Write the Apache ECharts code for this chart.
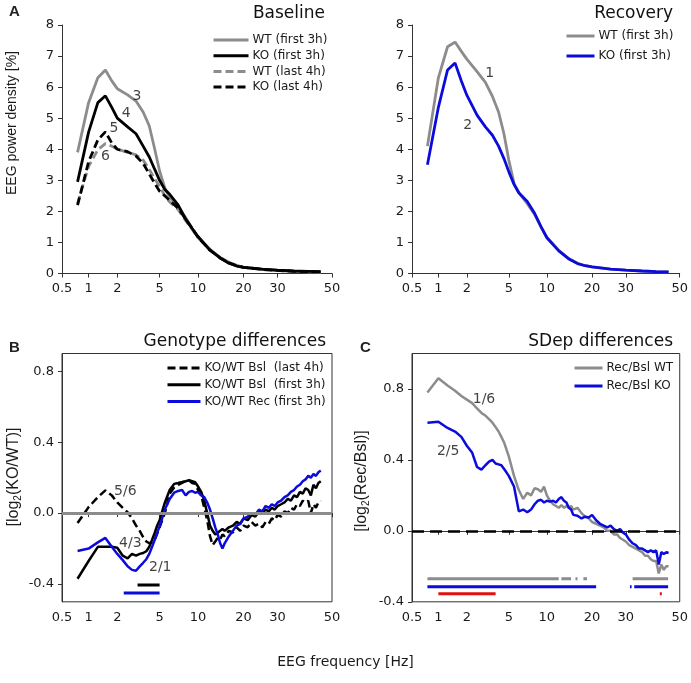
<!DOCTYPE html>
<html>
<head>
    <meta charset="UTF-8">
    <script src="https://cdn.jsdelivr.net/npm/echarts@6/dist/echarts.min.js"></script>
    <style>
        html, body { margin: 0; padding: 0; background: #fff; }
        #main { width: 691px; height: 683px; }
    </style>
</head>
<body>
<div id="main"></div>
<script type="text/javascript">
    // frequency axis: tick labels (Hz)
    var tickFreq = [0.5, 1, 2, 5, 10, 20, 30, 50];
    var tickLabels = ['0.5', '1', '2', '5', '10', '20', '30', '50'];
    // where each tick sits along the 270-unit frequency axis of the original figure
    var tickPos = [0, 26.6, 55.3, 97.6, 136, 181.6, 215.6, 270];

    // power spectra (A, Recovery)
    var freqSpec = [0.75, 1, 1.25, 1.5, 1.75, 2, 2.5, 3, 3.5, 4, 4.5, 5, 5.5, 6, 7, 8, 9, 10, 12, 14, 16, 18, 20, 25, 30, 35, 40, 45];
    var wtBslFirst = [3.9, 5.5, 6.3, 6.55, 6.2, 5.95, 5.75, 5.55, 5.2, 4.75, 4.0, 3.3, 2.75, 2.45, 2.15, 1.8, 1.45, 1.17, 0.78, 0.52, 0.36, 0.26, 0.2, 0.13, 0.09, 0.07, 0.05, 0.04];
    var koBslFirst = [2.95, 4.55, 5.5, 5.72, 5.35, 5.0, 4.72, 4.5, 4.1, 3.75, 3.35, 3.0, 2.7, 2.55, 2.2, 1.75, 1.45, 1.19, 0.75, 0.5, 0.33, 0.24, 0.2, 0.14, 0.11, 0.08, 0.07, 0.06];
    var wtBslLast = [2.25, 3.45, 3.98, 4.18, 4.1, 4.0, 3.9, 3.82, 3.65, 3.35, 3.05, 2.8, 2.5, 2.3, 2.05, 1.7, 1.42, 1.15, 0.76, 0.5, 0.34, 0.25, 0.2, 0.13, 0.1, 0.07, 0.06, 0.05];
    var koBslLast = [2.2, 3.6, 4.3, 4.56, 4.2, 4.0, 3.92, 3.78, 3.55, 3.2, 2.9, 2.65, 2.5, 2.35, 2.1, 1.75, 1.45, 1.17, 0.75, 0.5, 0.34, 0.25, 0.2, 0.13, 0.1, 0.07, 0.06, 0.05];
    var wtRec = [4.1, 6.3, 7.3, 7.45, 7.15, 6.9, 6.5, 6.15, 5.7, 5.2, 4.5, 3.65, 2.9, 2.6, 2.25, 1.9, 1.5, 1.17, 0.75, 0.48, 0.33, 0.25, 0.21, 0.14, 0.11, 0.08, 0.06, 0.05];
    var koRec = [3.5, 5.35, 6.55, 6.78, 6.2, 5.74, 5.1, 4.72, 4.45, 4.1, 3.7, 3.28, 2.87, 2.6, 2.32, 1.94, 1.5, 1.15, 0.73, 0.47, 0.32, 0.25, 0.21, 0.14, 0.11, 0.08, 0.06, 0.05];

    // log2 ratios (B, C)
    var freqRatio = [0.75, 1, 1.25, 1.5, 1.75, 2, 2.25, 2.5, 2.75, 3, 3.25, 3.5, 3.75, 4, 4.25, 4.5, 4.75, 5,
        5.5, 6, 6.5, 7, 7.5, 8, 8.5, 9, 9.5, 10, 10.5, 11, 11.5, 12, 12.5, 13, 13.5, 14, 14.5, 15, 16, 17, 18, 19, 20,
        21, 22, 23, 24, 25, 26, 27, 28, 29, 30, 31, 32, 33, 34, 35, 36, 37, 38, 39, 40, 41, 42, 43, 44, 45];
    var koWtBslLast = [-0.056, 0.034, 0.09, 0.128, 0.1, 0.06, 0.03, 0.005, -0.03, -0.07, -0.1, -0.135, -0.16, -0.17, -0.165, -0.15, -0.115, -0.08,
        0.0, 0.11, 0.145, 0.16, 0.17, 0.18, 0.185, 0.17, 0.165, 0.13, 0.1, 0.03, -0.04, -0.13, -0.18, -0.16, -0.14, -0.15, -0.12, -0.13, -0.1, -0.11, -0.08, -0.1, -0.07,
        -0.08, -0.05, -0.07, -0.06, -0.08, -0.05, -0.06, -0.03, -0.04, -0.01, -0.02, 0.01, 0.0, 0.03, 0.02, 0.05, 0.04, 0.07, 0.06, 0.07, 0.0, 0.05, 0.03, 0.06, 0.07];
    var koWtBslFirst = [-0.37, -0.27, -0.19, -0.19, -0.19, -0.195, -0.24, -0.255, -0.23, -0.24, -0.23, -0.225, -0.215, -0.19, -0.15, -0.11, -0.07, -0.04,
        0.06, 0.13, 0.165, 0.17, 0.175, 0.18, 0.185, 0.18, 0.175, 0.15, 0.12, 0.07, 0.0, -0.07, -0.1, -0.12, -0.11, -0.1, -0.09, -0.1, -0.08, -0.07, -0.05, -0.06, -0.03,
        -0.04, -0.01, -0.02, 0.01, 0.0, 0.02, 0.01, 0.03, 0.02, 0.04, 0.05, 0.06, 0.08, 0.07, 0.1, 0.09, 0.12, 0.11, 0.14, 0.13, 0.1, 0.16, 0.14, 0.17, 0.18];
    var koWtRec = [-0.214, -0.2, -0.165, -0.14, -0.19, -0.23, -0.265, -0.3, -0.32, -0.325, -0.3, -0.28, -0.26, -0.23, -0.19, -0.15, -0.11, -0.075,
        0.02, 0.08, 0.115, 0.125, 0.13, 0.1, 0.12, 0.125, 0.115, 0.12, 0.1, 0.09, 0.06, 0.02, -0.03, -0.08, -0.12, -0.17, -0.2, -0.17, -0.13, -0.1, -0.07, -0.06, -0.03,
        -0.02, 0.0, -0.01, 0.02, 0.01, 0.04, 0.03, 0.05, 0.04, 0.06, 0.07, 0.09, 0.1, 0.12, 0.13, 0.15, 0.16, 0.18, 0.19, 0.21, 0.2, 0.22, 0.21, 0.23, 0.24];
    var recBslWt = [0.78, 0.86, 0.82, 0.79, 0.76, 0.74, 0.72, 0.69, 0.665, 0.65, 0.63, 0.61, 0.585, 0.56, 0.53, 0.5, 0.46, 0.42,
        0.31, 0.23, 0.18, 0.215, 0.2, 0.24, 0.235, 0.22, 0.25, 0.2, 0.17, 0.15, 0.14, 0.13, 0.145, 0.13, 0.14, 0.13, 0.14, 0.12, 0.13, 0.1, 0.08, 0.07, 0.05,
        0.04, 0.03, 0.02, 0.0, 0.0, -0.02, -0.02, -0.04, -0.05, -0.06, -0.08, -0.09, -0.1, -0.11, -0.12, -0.14, -0.14, -0.16, -0.17, -0.17, -0.24, -0.19, -0.22, -0.2, -0.2];
    var recBslKo = [0.61, 0.615, 0.58, 0.56, 0.53, 0.48, 0.44, 0.36, 0.345, 0.37, 0.39, 0.4, 0.38, 0.375, 0.37, 0.35, 0.33, 0.31,
        0.25, 0.11, 0.12, 0.105, 0.12, 0.15, 0.17, 0.175, 0.16, 0.17, 0.165, 0.17, 0.16, 0.18, 0.19, 0.17, 0.16, 0.13, 0.12, 0.09, 0.085, 0.07, 0.08, 0.075, 0.09,
        0.06, 0.04, 0.03, 0.02, 0.03, 0.01, 0.0, 0.01, -0.01, -0.02, -0.05, -0.07, -0.08, -0.1, -0.1, -0.11, -0.12, -0.11, -0.12, -0.11, -0.19, -0.12, -0.13, -0.12, -0.125];

    // significant frequency ranges (Hz)
    var sigKoWtBsl = [[3.1, 5.0]];
    var sigKoWtRec = [[2.3, 5.0]];
    var sigRecBslWt = [[0.75, 12], [12.5, 14.5], [15.5, 16], [17.5, 18.5], [32, 44.8]];
    var sigRecBslKo = [[0.75, 21], [31.2, 31.7], [32.5, 44.8]];
    var sigGenoDiff = [[1, 3.75], [41.4, 42.2]];

    // curve labels: [freq, value, text]
    var notesA = [[3.06, 5.69, '3'], [2.43, 5.17, '4'], [1.84, 4.67, '5'], [1.5, 3.78, '6']];
    var notesRec = [[3.29, 6.45, '1'], [2.04, 4.78, '2']];
    var notesB = [[2.38, 0.124, '5/6'], [2.65, -0.169, '4/3'], [5.06, -0.304, '2/1']];
    var notesC = [[2.91, 0.744, '1/6'], [1.27, 0.448, '2/5']];

    var GRAY = '#8c8c8c', BLACK = '#000000', BLUE = '#0b0bdc', RED = '#e01010';
    var FONT = 'DejaVu Sans';

    function fx(f) {
        var lf = Math.log10(f);
        for (var i = 0; i < tickFreq.length - 1; i++) {
            var a = Math.log10(tickFreq[i]), b = Math.log10(tickFreq[i + 1]);
            if (lf <= b || i == tickFreq.length - 2) {
                return tickPos[i] + (lf - a) / (b - a) * (tickPos[i + 1] - tickPos[i]);
            }
        }
    }

    function pts(freqs, vals) {
        return freqs.map(function (f, i) { return [fx(f), vals[i]]; });
    }

    function ranges(list, y) {
        var d = [];
        list.forEach(function (r) {
            d.push([fx(r[0]), y], [fx(r[1]), y], [fx(r[1]), '-']);
        });
        return d;
    }

    function curve(name, idx, data, color, dashed, width) {
        return {
            name: name, type: 'line', xAxisIndex: idx, yAxisIndex: idx,
            data: data, symbol: 'none', smooth: false, z: 3,
            lineStyle: { color: color, width: width || 2.8, type: dashed ? [8, 4] : 'solid' },
            itemStyle: { color: color }
        };
    }

    function sigBar(idx, data, color) {
        return {
            type: 'line', xAxisIndex: idx, yAxisIndex: idx, data: data, symbol: 'none',
            connectNulls: false, silent: true, z: 3,
            lineStyle: { color: color, width: 3 }
        };
    }

    function notes(idx, list) {
        return {
            type: 'scatter', xAxisIndex: idx, yAxisIndex: idx, symbolSize: 0, silent: true, z: 5,
            data: list.map(function (n) { return [fx(n[0]), n[1], n[2]]; }),
            label: {
                show: true, position: 'inside', color: '#111', fontSize: 14, fontFamily: FONT,
                formatter: function (p) { return p.value[2]; }
            }
        };
    }

    function xAxisAt(idx) {
        return {
            gridIndex: idx, type: 'value', min: 0, max: 270,
            axisLine: { show: true, lineStyle: { color: '#333', width: 1 } },
            axisTick: { show: true, length: 4, customValues: tickPos, lineStyle: { color: '#333' } },
            axisLabel: {
                customValues: tickPos, margin: 9, color: '#1a1a1a', fontSize: 13, fontFamily: FONT,
                formatter: function (v) {
                    var k = 0;
                    for (var i = 0; i < tickPos.length; i++) if (Math.abs(tickPos[i] - v) < 0.5) k = i;
                    return tickLabels[k];
                }
            },
            splitLine: { show: false }
        };
    }

    function yAxisAt(idx, min, max, vals, digits) {
        return {
            gridIndex: idx, type: 'value', min: min, max: max,
            axisLine: { show: true, lineStyle: { color: '#333', width: 1 } },
            axisTick: { show: true, length: 4, customValues: vals, lineStyle: { color: '#333' } },
            axisLabel: {
                customValues: vals, margin: 8, color: '#1a1a1a', fontSize: 13, fontFamily: FONT,
                formatter: function (v) { return v.toFixed(digits); }
            },
            splitLine: { show: false }
        };
    }

    var legendNames = {
        a1: 'WT (first 3h)', a2: 'KO (first 3h)', a3: 'WT (last 4h)', a4: 'KO (last 4h)',
        r1: 'WT (first 3h)', r2: 'KO (first 3h)',
        b1: 'KO/WT Bsl  (last 4h)', b2: 'KO/WT Bsl  (first 3h)', b3: 'KO/WT Rec (first 3h)',
        c1: 'Rec/Bsl WT', c2: 'Rec/Bsl KO'
    };

    function legendAt(names, left, top, itemWidth, gap) {
        return {
            data: names, orient: 'vertical', left: left, top: top, itemWidth: itemWidth, itemHeight: 12,
            itemGap: gap, padding: 0, selectedMode: false,
            itemStyle: { color: 'rgba(0,0,0,0)', borderWidth: 0, opacity: 0 },
            lineStyle: { width: 3 },
            textStyle: { fontSize: 12, color: '#1a1a1a', fontFamily: FONT, padding: [0, 0, 0, -1] },
            formatter: function (n) { return legendNames[n]; }
        };
    }

    var yTicksSpec = [0, 1, 2, 3, 4, 5, 6, 7, 8];
    var yTicksRatio = [-0.4, 0, 0.4, 0.8];

    var titleStyle = { fontSize: 17, fontWeight: 'normal', color: '#111', fontFamily: FONT };

    var myChart = echarts.init(document.getElementById('main'));
    var option = {
        animation: false,
        backgroundColor: '#fff',
        textStyle: { fontFamily: FONT },
        grid: [
            { left: 62, top: 25, width: 270, height: 248.5 },
            { left: 412, top: 25, width: 270, height: 248.5 },
            { left: 62, top: 353.5, width: 270, height: 248.3, show: true, borderColor: '#333', borderWidth: 1 },
            { left: 412, top: 353.5, width: 270, height: 248.3, show: true, borderColor: '#333', borderWidth: 1 }
        ],
        xAxis: [xAxisAt(0), xAxisAt(1), xAxisAt(2), xAxisAt(3)],
        yAxis: [
            yAxisAt(0, 0, 8, yTicksSpec, 0),
            yAxisAt(1, 0, 8, yTicksSpec, 0),
            yAxisAt(2, -0.5, 0.9, yTicksRatio, 1),
            yAxisAt(3, -0.4, 1.0, yTicksRatio, 1)
        ],
        legend: [
            legendAt(['a1', 'a2', 'a3', 'a4'], 212, 34, 35, 3.7),
            legendAt(['r1', 'r2'], 565, 30, 28, 8),
            legendAt(['b1', 'b2', 'b3'], 166, 362, 33, 4.7),
            legendAt(['c1', 'c2'], 573, 362, 28, 6)
        ],
        title: [
            { text: 'Baseline', right: 691 - 330, top: 0, textStyle: titleStyle },
            { text: 'Recovery', right: 691 - 678, top: 0, textStyle: titleStyle },
            { text: 'Genotype differences', right: 691 - 331, top: 328, textStyle: titleStyle },
            { text: 'SDep differences', right: 691 - 678, top: 328, textStyle: titleStyle }
        ],
        graphic: [
            { type: 'text', left: 9, top: 4, style: { text: 'A', fontSize: 15, fontWeight: 'bold', fill: '#222', fontFamily: 'Liberation Sans' } },
            { type: 'text', left: 9, top: 340, style: { text: 'B', fontSize: 15, fontWeight: 'bold', fill: '#222', fontFamily: 'Liberation Sans' } },
            { type: 'text', left: 360, top: 340, style: { text: 'C', fontSize: 15, fontWeight: 'bold', fill: '#222', fontFamily: 'Liberation Sans' } },
            {
                type: 'text', x: 12, y: 123, rotation: Math.PI / 2,
                style: { text: 'EEG power density [%]', fontSize: 14, fill: '#1a1a1a', fontFamily: 'Liberation Sans', align: 'center', verticalAlign: 'middle' }
            },
            {
                type: 'text', x: 14, y: 477, rotation: Math.PI / 2,
                style: {
                    text: '[log{s|2}(KO/WT)]', fontSize: 16, fill: '#1a1a1a', fontFamily: 'Liberation Sans', align: 'center', verticalAlign: 'middle',
                    rich: { s: { fontSize: 10, fontFamily: 'Liberation Sans', verticalAlign: 'bottom', padding: [8, 0, 0, 0] } }
                }
            },
            {
                type: 'text', x: 362, y: 481, rotation: Math.PI / 2,
                style: {
                    text: '[log{s|2}(Rec/Bsl)]', fontSize: 16, fill: '#1a1a1a', fontFamily: 'Liberation Sans', align: 'center', verticalAlign: 'middle',
                    rich: { s: { fontSize: 10, fontFamily: 'Liberation Sans', verticalAlign: 'bottom', padding: [8, 0, 0, 0] } }
                }
            },
            {
                type: 'text', left: 'center', top: 655,
                style: { text: 'EEG frequency [Hz]', fontSize: 14, fill: '#1a1a1a', fontFamily: FONT }
            }
        ],
        series: [
            curve('a1', 0, pts(freqSpec, wtBslFirst), GRAY, false),
            curve('a3', 0, pts(freqSpec, wtBslLast), GRAY, true),
            curve('a2', 0, pts(freqSpec, koBslFirst), BLACK, false),
            curve('a4', 0, pts(freqSpec, koBslLast), BLACK, true),
            notes(0, notesA),

            curve('r1', 1, pts(freqSpec, wtRec), GRAY, false),
            curve('r2', 1, pts(freqSpec, koRec), BLUE, false),
            notes(1, notesRec),

            {
                type: 'line', xAxisIndex: 2, yAxisIndex: 2, data: [], silent: true, z: 2,
                markLine: { symbol: 'none', silent: true, label: { show: false }, lineStyle: { color: GRAY, width: 3, type: 'solid' }, data: [{ yAxis: 0 }] }
            },
            curve('b1', 2, pts(freqRatio, koWtBslLast), BLACK, true, 2.5),
            curve('b2', 2, pts(freqRatio, koWtBslFirst), BLACK, false, 2.5),
            curve('b3', 2, pts(freqRatio, koWtRec), BLUE, false, 2.5),
            sigBar(2, ranges(sigKoWtBsl, -0.405), BLACK),
            sigBar(2, ranges(sigKoWtRec, -0.45), BLUE),
            notes(2, notesB),

            curve('c1', 3, pts(freqRatio, recBslWt), GRAY, false, 2.5),
            curve('c2', 3, pts(freqRatio, recBslKo), BLUE, false, 2.5),
            {
                type: 'line', xAxisIndex: 3, yAxisIndex: 3, data: [], silent: true, z: 4,
                markLine: { symbol: 'none', silent: true, label: { show: false }, lineStyle: { color: BLACK, width: 2.5, type: [12, 6] }, data: [{ yAxis: 0 }] }
            },
            sigBar(3, ranges(sigRecBslWt, -0.27), GRAY),
            sigBar(3, ranges(sigRecBslKo, -0.315), BLUE),
            sigBar(3, ranges(sigGenoDiff, -0.354), RED),
            notes(3, notesC)
        ]
    };
    myChart.setOption(option);
</script>
</body>
</html>
